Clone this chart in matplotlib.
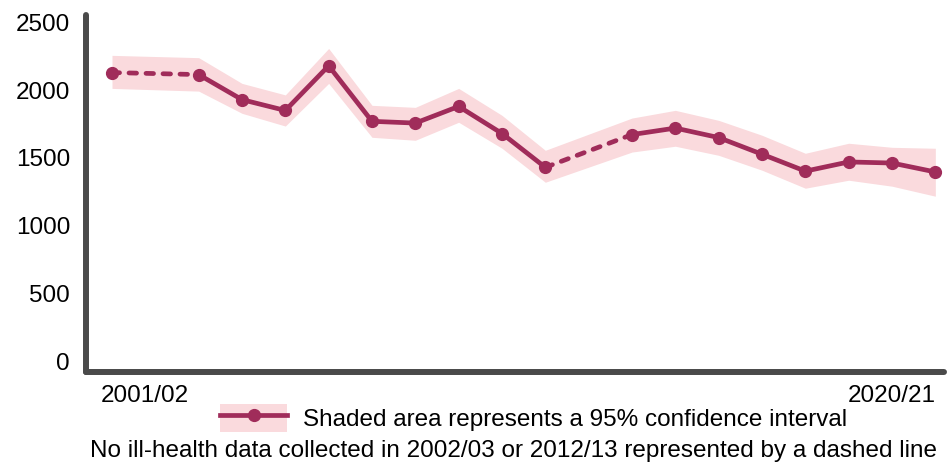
import matplotlib
matplotlib.use("Agg")
import matplotlib.pyplot as plt
import matplotlib.transforms as mtransforms
from matplotlib.patches import Patch
from matplotlib.lines import Line2D

plt.rcParams['font.family'] = ['Liberation Sans', 'DejaVu Sans']

# ---- data ----
all_years = ["2001/02", "2002/03", "2003/04", "2004/05", "2005/06", "2006/07", "2007/08",
             "2008/09", "2009/10", "2010/11", "2011/12", "2012/13", "2013/14", "2014/15",
             "2015/16", "2016/17", "2017/18", "2018/19", "2019/20", "2020/21"]
point_years = ["2001/02", "2003/04", "2004/05", "2005/06", "2006/07", "2007/08", "2008/09",
               "2009/10", "2010/11", "2011/12", "2013/14", "2014/15", "2015/16", "2016/17",
               "2017/18", "2018/19", "2019/20", "2020/21"]
values = [2130, 2115, 1930, 1850, 2180, 1770, 1757, 1880, 1680, 1430,
          1672, 1720, 1650, 1527, 1402, 1470, 1462, 1396]
ci_upper = [2257, 2240, 2050, 1965, 2308, 1888, 1873, 2013, 1814, 1556,
            1794, 1851, 1777, 1667, 1534, 1608, 1578, 1571]
ci_lower = [2013, 1993, 1829, 1735, 2050, 1652, 1630, 1763, 1571, 1320,
            1543, 1586, 1519, 1409, 1276, 1335, 1291, 1217]
ytick_values = [0, 500, 1000, 1500, 2000, 2500]
xtick_labels = ["2001/02", "2020/21"]

legend_text = "Shaded area represents a 95% confidence interval"
note_text = "No ill-health data collected in 2002/03 or 2012/13 represented by a dashed line"

LINE = "#a02c5a"
BAND = "#fadadd"
SPINE = "#4a4a4a"
FS = 17.5
FSPX = FS * 100 / 72

xs = [all_years.index(y) for y in point_years]

fig = plt.figure(figsize=(9.49, 4.70), dpi=100)
ax = fig.add_axes([86/949, (470-372)/470, (944-86)/949, (372-15)/470])

ax.fill_between(xs, ci_lower, ci_upper, color=BAND, linewidth=0, zorder=1)

# split into solid and dashed segments
segs = []
cur = [0]
for i in range(1, len(xs)):
    if xs[i] - xs[i-1] > 1:
        segs.append(("solid", cur))
        segs.append(("dashed", [i-1, i]))
        cur = [i]
    else:
        cur.append(i)
segs.append(("solid", cur))
for style, idx in segs:
    if len(idx) < 2:
        continue
    sx = [xs[i] for i in idx]
    sy = [values[i] for i in idx]
    if style == "solid":
        ax.plot(sx, sy, color=LINE, lw=3.4, solid_capstyle='round', solid_joinstyle='round', zorder=3)
    else:
        ax.plot(sx, sy, color=LINE, lw=3.4, dashes=(1.6, 2.0), dash_capstyle='round', zorder=3)
ax.plot(xs, values, linestyle='none', marker='o', ms=8.5, color=LINE, zorder=4)

ax.set_xlim(-0.6, 19.2)
ax.set_ylim(-81, 2555)
ax.set_yticks(ytick_values)
ax.set_yticklabels([str(v) for v in ytick_values], fontsize=FS)
ax.set_xticks([all_years.index(x) for x in xtick_labels])
ax.set_xticklabels(xtick_labels, fontsize=FS)
ax.tick_params(axis='both', length=0)
ax.tick_params(axis='y', pad=11.5)
ax.tick_params(axis='x', pad=9)

xl = ax.get_xticklabels()
xl[0].set_horizontalalignment('left')
xl[0].set_transform(xl[0].get_transform() + mtransforms.ScaledTranslation(-11/100, 0, fig.dpi_scale_trans))
xl[1].set_horizontalalignment('right')

for s in ['top', 'right']:
    ax.spines[s].set_visible(False)
for s in ['left', 'bottom']:
    ax.spines[s].set_color(SPINE)
    ax.spines[s].set_linewidth(4.3)
    ax.spines[s].set_capstyle('round')

h_patch = Patch(facecolor=BAND, edgecolor='none')
h_line = Line2D([], [], color=LINE, lw=3.4, marker='o', ms=8.5)
leg = fig.legend(handles=[(h_patch, h_line)], labels=[legend_text], loc='center left',
                 bbox_to_anchor=(220/949, 1 - 418/470), frameon=False, fontsize=FS,
                 handlelength=67/FSPX, handleheight=35/FSPX, handletextpad=16/FSPX,
                 borderpad=0, borderaxespad=0)

fig.text(937/949, 1 - 451/470, note_text, ha='right', va='center', fontsize=FS)

fig.savefig("out.png", dpi=100)
